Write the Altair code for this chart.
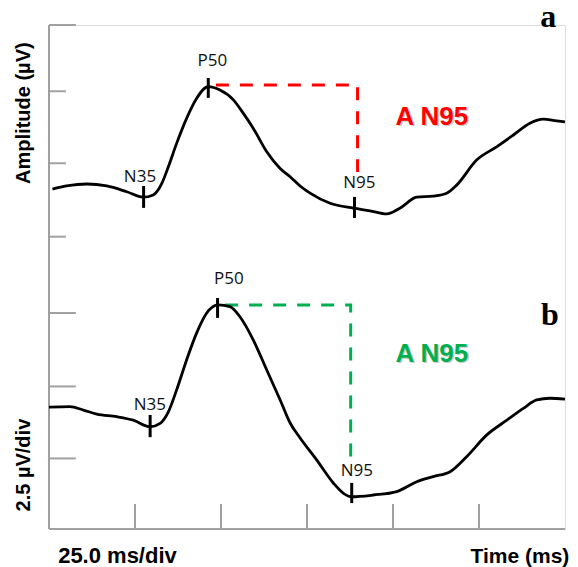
import altair as alt
import pandas as pd

# ---- data (time in ms, amplitude in µV on the 2.5 µV/div grid) ----
a_time = [1.0, 5.1, 11.0, 16.8, 22.6, 27.4, 30.3, 32.8, 34.7, 37.1, 40.0, 42.9, 46.3, 49.7, 53.6, 56.5,
          59.4, 63.3, 67.2, 70.1, 73.0, 75.9, 81.7, 88.5, 93.3, 98.2, 102.0, 106.9, 111.7, 115.6, 118.5,
          124.3, 130.1, 135.0, 139.8, 143.7, 147.6, 150.0]
a_amp = [11.80, 11.91, 11.98, 11.91, 11.71, 11.52, 11.60, 12.00, 12.58, 13.39, 14.26, 14.95, 15.36, 15.24,
         14.90, 14.43, 13.91, 13.10, 12.52, 12.23, 11.91, 11.66, 11.31, 11.14, 11.05, 10.94, 11.14, 11.52,
         11.56, 11.66, 11.94, 12.81, 13.27, 13.68, 14.09, 14.23, 14.17, 14.14]

b_time = [0.0, 6.1, 10.0, 13.9, 19.7, 24.5, 29.4, 32.3, 34.7, 37.1, 40.0, 42.9, 45.8, 49.2, 52.6, 55.5,
          59.4, 63.3, 67.2, 70.1, 73.0, 77.8, 82.7, 85.6, 88.0, 94.3, 101.1, 106.9, 111.7, 116.6, 121.4,
          127.2, 133.1, 137.9, 141.8, 145.6, 150.0]
b_amp = [4.23, 4.25, 4.13, 3.99, 3.90, 3.78, 3.55, 3.67, 4.07, 4.83, 5.87, 6.80, 7.49, 7.78, 7.72, 7.37,
         6.56, 5.52, 4.48, 3.68, 3.16, 2.40, 1.59, 1.24, 1.12, 1.18, 1.30, 1.64, 1.82, 1.99, 2.51, 3.26,
         3.78, 4.19, 4.48, 4.54, 4.51]

peak_names = ["N35", "P50", "N95"]
a_peak_time = [27.5, 46.3, 88.8]
a_peak_top = [11.91, 15.66, 11.53]
a_peak_bot = [11.15, 14.97, 10.80]
a_label_time = [26.45, 47.5, 90.2]
a_label_amp = [12.06, 16.08, 11.83]

b_peak_time = [29.4, 49.0, 88.0]
b_peak_top = [3.96, 8.02, 1.60]
b_peak_bot = [3.19, 7.33, 0.90]
b_label_time = [29.3, 52.3, 89.5]
b_label_amp = [4.13, 8.51, 1.84]

# amplitude brackets (P50 level -> N95 time)
a_dash_time = [48.5, 89.7, 89.7]
a_dash_amp = [15.42, 15.42, 12.40]
b_dash_time = [51.2, 87.7, 87.7]
b_dash_amp = [7.78, 7.78, 2.42]

# axes / grid divisions
x_ticks = [25, 50, 75, 100, 125]
y_ticks_long = [17.5, 7.5, 4.95, 2.45]
y_ticks_short = [15.2, 12.7, 10.15]
t_max = 150
v_max = 17.5

xs = alt.Scale(domain=[0, t_max], nice=False, zero=False)
ys = alt.Scale(domain=[0, v_max], nice=False, zero=False)
X = lambda f: alt.X(f, type="quantitative", scale=xs, axis=None)
Y = lambda f: alt.Y(f, type="quantitative", scale=ys, axis=None)

AXIS_GRAY = "#a0a0a0"
RED = "#FF0000"
GREEN = "#00B050"

# ---- axis frame ----
left_axis = alt.Chart(pd.DataFrame({"t": [0], "v": [0], "v2": [v_max]})).mark_rule(
    color=AXIS_GRAY, strokeWidth=2).encode(x=X("t"), y=Y("v"), y2="v2")
bottom_axis = alt.Chart(pd.DataFrame({"t": [0], "t2": [t_max], "v": [0]})).mark_rule(
    color=AXIS_GRAY, strokeWidth=2).encode(x=X("t"), x2="t2", y=Y("v"))
xt = alt.Chart(pd.DataFrame({"t": x_ticks, "v": 0, "v2": 0.87})).mark_rule(
    color=AXIS_GRAY, strokeWidth=2).encode(x=X("t"), y=Y("v"), y2="v2")
ytl = alt.Chart(pd.DataFrame({"v": y_ticks_long, "t": 0, "t2": 7.8})).mark_rule(
    color=AXIS_GRAY, strokeWidth=2).encode(x=X("t"), x2="t2", y=Y("v"))
yts = alt.Chart(pd.DataFrame({"v": y_ticks_short, "t": 0, "t2": 4.9})).mark_rule(
    color=AXIS_GRAY, strokeWidth=2).encode(x=X("t"), x2="t2", y=Y("v"))

# ---- traces ----
def trace(tt, vv):
    return alt.Chart(pd.DataFrame({"t": tt, "v": vv})).mark_line(
        color="black", strokeWidth=2.8, interpolate="monotone").encode(x=X("t"), y=Y("v"))

def peaks(tt, top, bot):
    return alt.Chart(pd.DataFrame({"t": tt, "v": top, "v2": bot})).mark_rule(
        color="black", strokeWidth=3).encode(x=X("t"), y=Y("v"), y2="v2")

def peak_text(tt, vv):
    return alt.Chart(pd.DataFrame({"t": tt, "v": vv, "s": peak_names})).mark_text(
        font="Open Sans", fontSize=17, fontWeight=500, color="#111111", baseline="alphabetic",
        align="center").encode(x=X("t"), y=Y("v"), text="s")

def dashed(tt, vv, col):
    return alt.Chart(pd.DataFrame({"t": tt, "v": vv, "o": list(range(len(tt)))})).mark_line(
        color=col, strokeWidth=3, strokeDash=[13, 11]).encode(x=X("t"), y=Y("v"), order="o:Q")

def amp_label(t, v, col):
    df = pd.DataFrame({"t": [t], "v": [v], "s": ["A N95"]})
    shadow = alt.Chart(df).mark_text(font="Liberation Sans", fontWeight="bold", fontSize=26,
                                     color="#b8b8b8", opacity=0.7, dx=1.5, dy=1.5,
                                     baseline="alphabetic").encode(x=X("t"), y=Y("v"), text="s")
    main = alt.Chart(df).mark_text(font="Liberation Sans", fontWeight="bold", fontSize=26,
                                   color=col, baseline="alphabetic").encode(x=X("t"), y=Y("v"), text="s")
    return shadow + main

panel_letters = alt.Chart(pd.DataFrame({"t": [145.1, 145.6], "v": [17.44, 7.08], "s": ["a", "b"]})).mark_text(
    font="Liberation Serif", fontWeight="bold", fontSize=32, color="black", baseline="alphabetic"
).encode(x=X("t"), y=Y("v"), text="s")

left_titles = alt.Chart(pd.DataFrame({"t": [-7.27, -7.27], "v": [14.44, 2.22],
                                      "s": ["Amplitude (µV)", "2.5 µV/div"]})).mark_text(
    font="Liberation Sans", fontWeight="bold", fontSize=20, color="black", angle=270,
    baseline="middle", align="center").encode(x=X("t"), y=Y("v"), text="s")

bottom_left_title = alt.Chart(pd.DataFrame({"t": [19.9], "v": [-1.18], "s": ["25.0 ms/div"]})).mark_text(
    font="Liberation Sans", fontWeight="bold", fontSize=22, color="black",
    baseline="alphabetic", align="center").encode(x=X("t"), y=Y("v"), text="s")
bottom_right_title = alt.Chart(pd.DataFrame({"t": [136.9], "v": [-1.18], "s": ["Time (ms)"]})).mark_text(
    font="Liberation Sans", fontWeight="bold", fontSize=21, color="black",
    baseline="alphabetic", align="center").encode(x=X("t"), y=Y("v"), text="s")

chart = alt.layer(
    left_axis, bottom_axis, xt, ytl, yts,
    dashed(a_dash_time, a_dash_amp, RED), dashed(b_dash_time, b_dash_amp, GREEN),
    trace(a_time, a_amp), trace(b_time, b_amp),
    peaks(a_peak_time, a_peak_top, a_peak_bot), peaks(b_peak_time, b_peak_top, b_peak_bot),
    peak_text(a_label_time, a_label_amp), peak_text(b_label_time, b_label_amp),
    amp_label(111.3, 14.03, RED), amp_label(111.3, 5.81, GREEN),
    panel_letters, left_titles, bottom_left_title, bottom_right_title,
).properties(
    width=516, height=504, autosize="none",
    padding={"left": 41, "top": 17, "right": 5, "bottom": 38},
).configure_view(stroke=None).configure(background="white")

chart.save("out.html", embed_options={"renderer": "svg", "actions": False})
